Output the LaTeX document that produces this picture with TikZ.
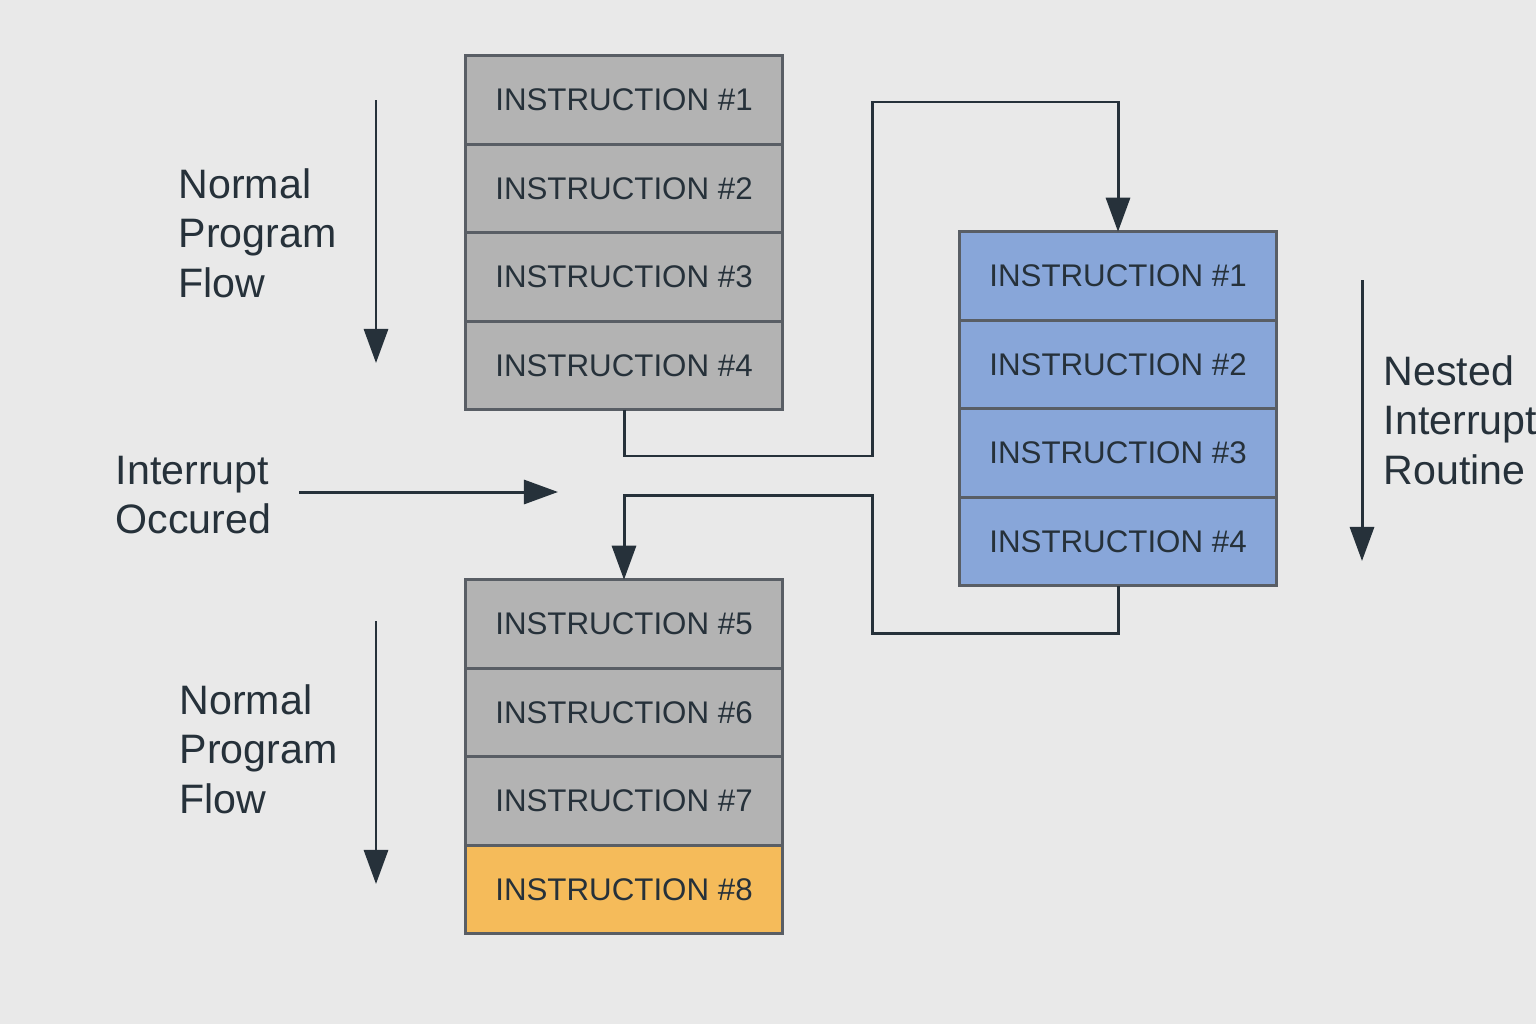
\documentclass[tikz,border=0pt]{standalone}
\usepackage{fontspec}
\setmainfont{Liberation Sans}
\usetikzlibrary{positioning,arrows.meta}
\definecolor{bgcol}{HTML}{E9E9E9}
\definecolor{graybox}{HTML}{B3B3B3}
\definecolor{bluebox}{HTML}{88A6D9}
\definecolor{orangebox}{HTML}{F5BB5A}
\definecolor{edgecol}{HTML}{595E65}
\definecolor{inkcol}{HTML}{26313A}
\begin{document}
\begin{tikzpicture}[x=0.01cm, y=-0.01cm, node distance=0pt]
        \tikzstyle{instr}=[draw=edgecol, line width=0.85pt, rectangle, minimum width=3.16cm, minimum height=0.885cm, inner sep=0pt, outer sep=0pt, text=inkcol, font=\fontsize{8.9}{11}\selectfont, fill=graybox]
        \tikzstyle{label}=[align=left, inner sep=0pt, text=inkcol, font=\fontsize{11.7}{14.1}\selectfont, anchor=west]
        \tikzstyle{flow}=[draw=inkcol, line width=0.85pt, -{Triangle[width=0.24cm, length=0.34cm]}]
        \fill[bgcol] (0,0) rectangle (1536,1024);
        \useasboundingbox (0,0) rectangle (1536,1024);
        % main program
        \node[instr] (l1) at (624,100) {INSTRUCTION \#1};
        \node[instr, below=of l1] (l2) {INSTRUCTION \#2};
        \node[instr, below=of l2] (l3) {INSTRUCTION \#3};
        \node[instr, below=of l3] (l4) {INSTRUCTION \#4};
        \node[instr] (b5) at (624,624) {INSTRUCTION \#5};
        \node[instr, below=of b5] (b6) {INSTRUCTION \#6};
        \node[instr, below=of b6] (b7) {INSTRUCTION \#7};
        \node[instr, below=of b7, fill=orangebox] (b8) {INSTRUCTION \#8};
        % interrupt routine
        \node[instr, fill=bluebox] (r1) at (1118,276) {INSTRUCTION \#1};
        \node[instr, fill=bluebox, below=of r1] (r2) {INSTRUCTION \#2};
        \node[instr, fill=bluebox, below=of r2] (r3) {INSTRUCTION \#3};
        \node[instr, fill=bluebox, below=of r3] (r4) {INSTRUCTION \#4};
        % labels
        \node[label] (normal1) at (178,233) {Normal\\Program\\Flow};
        \node[label] (normal2) at (179,749) {Normal\\Program\\Flow};
        \node[label] (irq) at (115,495) {Interrupt\\Occured};
        \node[label] (nested) at (1383,420) {Nested\\Interrupt\\Routine};
        % arrows
        \coordinate (n1top) at (376,100);
        \coordinate (n1end) at (376,363);
        \coordinate (n2top) at (376,621);
        \coordinate (n2end) at (376,884);
        \coordinate (irqstart) at (299,492);
        \coordinate (irqend) at (558,492);
        \coordinate (nesttop) at (1362,280);
        \coordinate (nestend) at (1362,561);
        \draw[flow] (n1top) -- (n1end);
        \draw[flow] (n2top) -- (n2end);
        \draw[flow] (irqstart) -- (irqend);
        \draw[flow] (nesttop) -- (nestend);
        \coordinate (go1) at (872,456);
        \coordinate (go2) at (872,102);
        \coordinate (back1) at (872,633);
        \coordinate (back2) at (872,495);
        \draw[flow] (l4.south) |- (go1) -- (go2) -| (r1.north);
        \draw[flow] (r4.south) |- (back1) -- (back2) -| (b5.north);
\end{tikzpicture}
\end{document}
